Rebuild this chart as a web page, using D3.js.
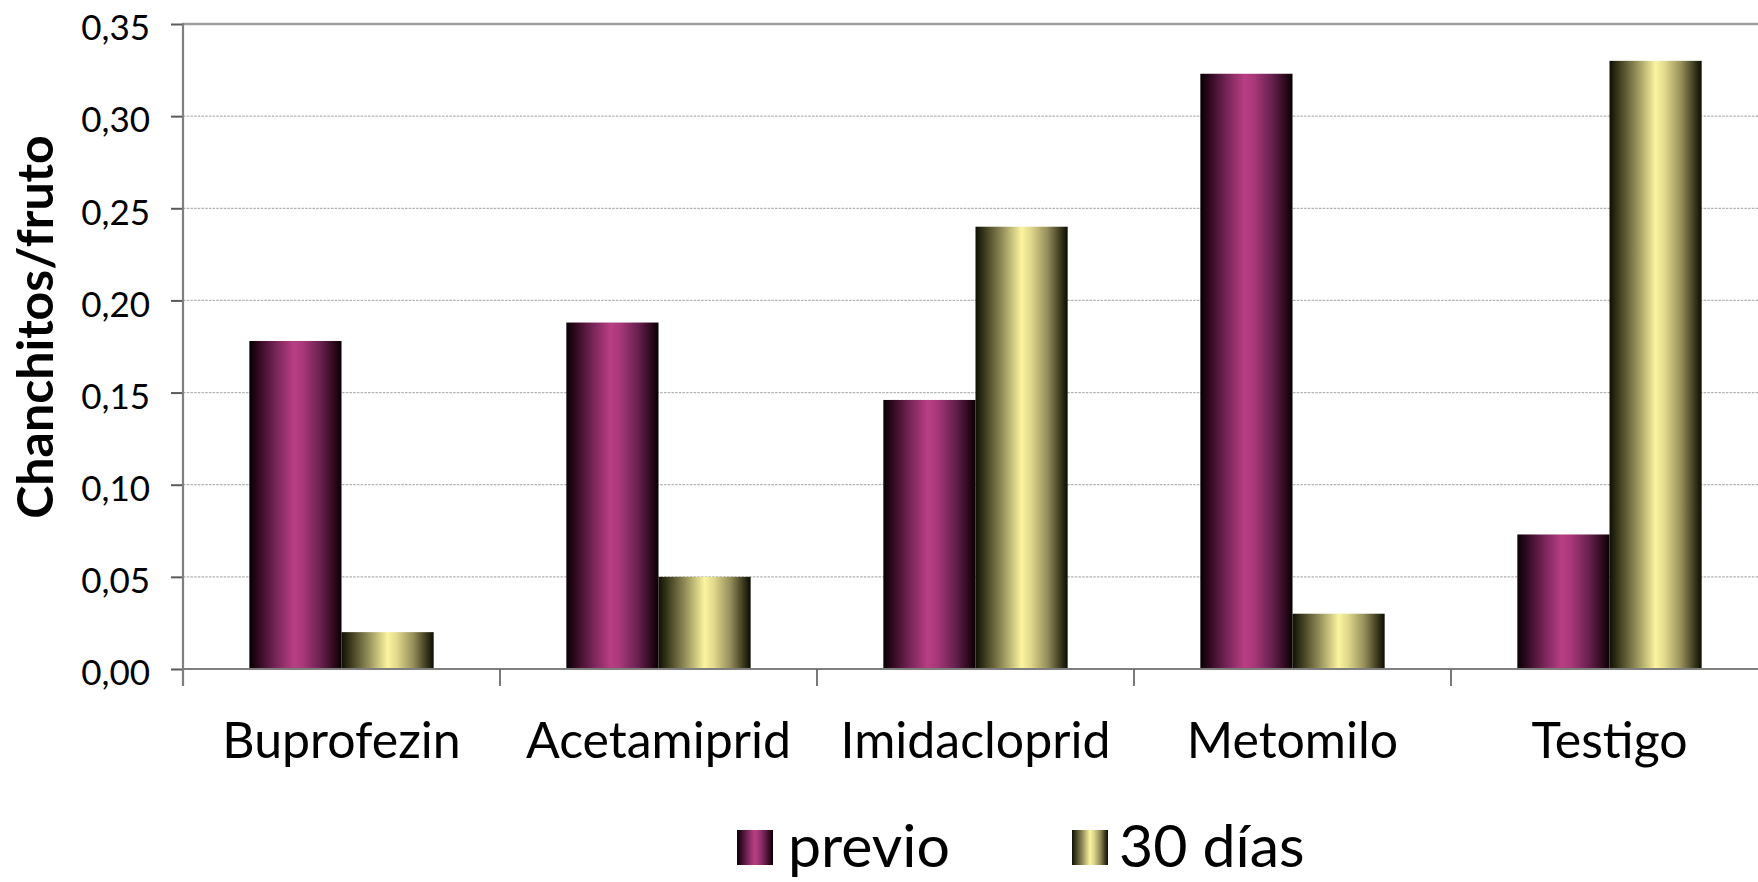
<!DOCTYPE html>
<html>
<head>
<meta charset="utf-8">
<script src="https://cdn.jsdelivr.net/npm/d3@7"></script>
<style>
  html, body { margin: 0; padding: 0; background: #fff; overflow: hidden; }
  svg text { font-family: Lato, "Open Sans", sans-serif; fill: #000; }
</style>
</head>
<body>
<svg id="chart" width="1758" height="882"></svg>
<script>
// Data
const categories = ["Buprofezin", "Acetamiprid", "Imidacloprid", "Metomilo", "Testigo"];
const seriesNames = ["previo", "30 días"];
const previo = [0.178, 0.188, 0.146, 0.323, 0.073];
const dias30 = [0.020, 0.050, 0.240, 0.030, 0.330];
const yTicks = [0, 0.05, 0.10, 0.15, 0.20, 0.25, 0.30, 0.35];
const yTickLabels = ["0,00", "0,05", "0,10", "0,15", "0,20", "0,25", "0,30", "0,35"];
const yTitle = "Chanchitos/fruto";

const svg = d3.select("#chart");
const plot = { left: 183, right: 1768, top: 24, bottom: 669 };

// Scales
const x = d3.scaleBand().domain(categories).range([plot.left, plot.right]).paddingInner(0).paddingOuter(0);
const xs = d3.scaleBand().domain(seriesNames).range([0, x.bandwidth()]).paddingInner(0).paddingOuter(0.72);
const y = d3.scaleLinear().domain([0, 0.35]).range([plot.bottom, plot.top]);

// Cylindrical shading gradients for each series
const defs = svg.append("defs");
const gradients = {
  "previo": [
    [0, "#060003"], [0.1, "#30091f"], [0.28, "#742456"], [0.48, "#b93e84"],
    [0.58, "#a9387a"], [0.78, "#66204e"], [0.93, "#2a0819"], [1, "#070003"]
  ],
  "30 días": [
    [0, "#0f0f05"], [0.1, "#3b3a1c"], [0.28, "#8e8955"], [0.5, "#fbf49f"],
    [0.6, "#e1d98c"], [0.78, "#958e5a"], [0.93, "#36341a"], [1, "#0c0c04"]
  ]
};
const gradId = name => name === "previo" ? "grad-previo" : "grad-30dias";
seriesNames.forEach(name => {
  const g = defs.append("linearGradient").attr("id", gradId(name))
    .attr("x1", 0).attr("x2", 1).attr("y1", 0).attr("y2", 0);
  gradients[name].forEach(([o, c]) => g.append("stop").attr("offset", o).attr("stop-color", c));
});

// Gridlines (dashed), top line solid
svg.append("g").selectAll("line")
  .data(yTicks.filter(d => d > 0 && d < 0.35))
  .join("line")
  .attr("x1", plot.left).attr("x2", plot.right)
  .attr("y1", d => y(d)).attr("y2", d => y(d))
  .attr("stroke", "#b2b2b2").attr("stroke-width", 1.2)
  .attr("stroke-dasharray", "2.5,1.2");
svg.append("line")
  .attr("x1", plot.left).attr("x2", plot.right)
  .attr("y1", y(0.35)).attr("y2", y(0.35))
  .attr("stroke", "#a0a0a0").attr("stroke-width", 2.5);

// Bars
const rows = categories.map((c, i) => ({ cat: c, values: [
  { name: "previo", value: previo[i] },
  { name: "30 días", value: dias30[i] }
]}));
svg.append("g").selectAll("g")
  .data(rows)
  .join("g")
  .attr("transform", d => `translate(${x(d.cat)},0)`)
  .selectAll("rect")
  .data(d => d.values)
  .join("rect")
  .attr("x", d => xs(d.name))
  .attr("width", xs.bandwidth())
  .attr("y", d => y(d.value))
  .attr("height", d => y(0) - y(d.value))
  .attr("fill", d => `url(#${gradId(d.name)})`);

// X axis
const xAxis = svg.append("g")
  .attr("transform", `translate(0,${plot.bottom})`);
xAxis.append("line")
  .attr("x1", plot.left).attr("x2", plot.right)
  .attr("y1", 0).attr("y2", 0)
  .attr("stroke", "#7f7f7f").attr("stroke-width", 2.2);
xAxis.selectAll("line.tick")
  .data(categories.map(c => x(c)).concat([plot.right]))
  .join("line").attr("class", "tick")
  .attr("x1", d => d).attr("x2", d => d)
  .attr("y1", 0).attr("y2", 17)
  .attr("stroke", "#6a6a6a").attr("stroke-width", 1.8);
xAxis.selectAll("text")
  .data(categories)
  .join("text")
  .attr("x", d => x(d) + x.bandwidth() / 2)
  .attr("y", 89)
  .attr("text-anchor", "middle")
  .attr("font-size", 50)
  .text(d => d);

// Y axis
const yAxis = svg.append("g")
  .attr("transform", `translate(${plot.left},0)`)
  .call(d3.axisLeft(y).tickValues(yTicks).tickSize(12).tickPadding(21)
    .tickFormat((d, i) => yTickLabels[i]));
yAxis.select(".domain").remove();
yAxis.selectAll(".tick line").attr("stroke", "#5a5a5a").attr("stroke-width", 2);
yAxis.selectAll(".tick text")
  .attr("font-size", 35)
  .attr("font-family", "Lato, sans-serif")
  .attr("dy", "0.45em")
  .attr("fill", "#000");
svg.append("line")
  .attr("x1", plot.left).attr("x2", plot.left)
  .attr("y1", plot.top - 1).attr("y2", plot.bottom + 17)
  .attr("stroke", "#7f7f7f").attr("stroke-width", 2.2);

// Y axis title
svg.append("text")
  .attr("transform", "translate(53,327) rotate(-90)")
  .attr("text-anchor", "middle")
  .attr("font-size", 50)
  .attr("font-weight", "bold")
  .text(yTitle);

// Legend
const legendItems = [
  { name: "previo", sx: 737, tx: 788 },
  { name: "30 días", sx: 1072, tx: 1119 }
];
const legend = svg.append("g");
legend.selectAll("rect")
  .data(legendItems)
  .join("rect")
  .attr("x", d => d.sx).attr("y", 830)
  .attr("width", 36).attr("height", 35)
  .attr("fill", d => `url(#${gradId(d.name)})`);
legend.selectAll("text")
  .data(legendItems)
  .join("text")
  .attr("x", d => d.tx).attr("y", 867)
  .attr("font-size", 59)
  .text(d => d.name);
</script>
</body>
</html>
